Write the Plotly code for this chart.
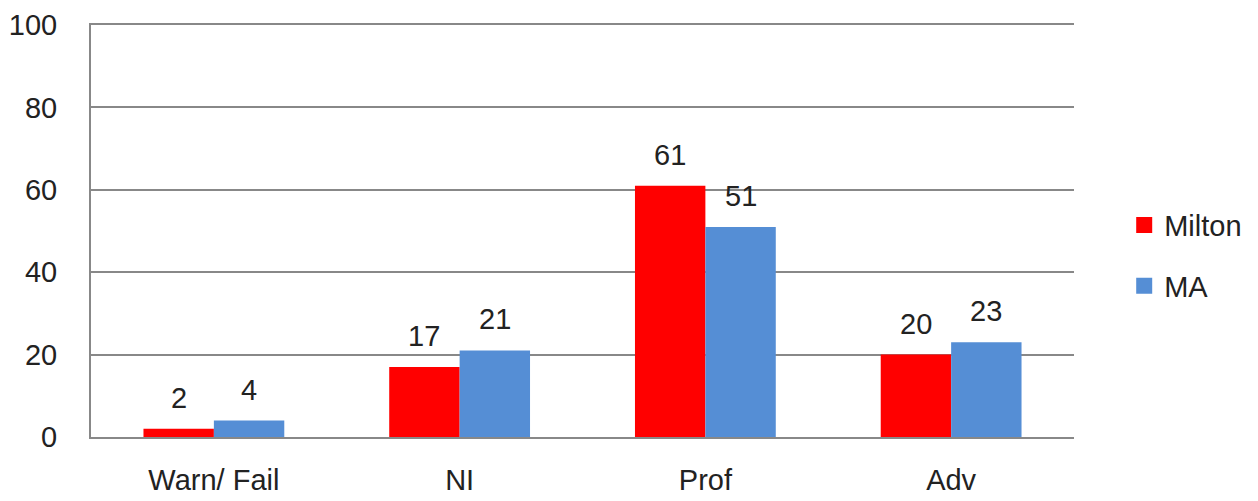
import plotly.graph_objects as go

categories = ["Warn/ Fail", "NI", "Prof", "Adv"]
milton = [2, 17, 61, 20]
ma = [4, 21, 51, 23]
y_ticks = [0, 20, 40, 60, 80, 100]
series = [("Milton", milton, "#FF0000"), ("MA", ma, "#558ED5")]

FONT = "Liberation Sans, Arial, sans-serif"
FS = 29
BARGAP = 0.427
fig = go.Figure()
for name, vals, col in series:
    fig.add_trace(go.Bar(name=name, x=categories, y=vals, marker_color=col,
                         marker_line_width=0, showlegend=False))
for name, vals, col in series:
    fig.add_trace(go.Scatter(name=name, x=[None], y=[None], mode="markers",
                             marker=dict(symbol="square", size=19, color=col),
                             legendgroup=name, showlegend=True))

off_w = (1 - BARGAP) / 4
annotations = []
for i, c in enumerate(categories):
    for v, off in ((milton[i], -off_w), (ma[i], off_w)):
        annotations.append(dict(x=i + off, y=v, xref="x", yref="y", text=str(v),
                                showarrow=False, yanchor="bottom", yshift=13,
                                font=dict(family=FONT, size=FS, color="#222")))

fig.update_layout(
    width=1250, height=493,
    margin=dict(l=83, r=183, t=17, b=64),
    paper_bgcolor="white", plot_bgcolor="white",
    barmode="group", bargap=BARGAP, bargroupgap=0,
    font=dict(family=FONT, size=FS, color="#222"),
    showlegend=True,
    legend=dict(x=1.05, y=0.44, xanchor="left", yanchor="middle",
                tracegroupgap=20, font=dict(size=FS), itemwidth=30,
                itemsizing="trace"),
    annotations=annotations,
    xaxis=dict(showline=True, linecolor="#888", linewidth=2, ticks="", mirror=True,
               ticklabelstandoff=16, tickfont=dict(size=FS), automargin=False),
    yaxis=dict(range=[0, 100], tickvals=y_ticks, showgrid=True, gridcolor="#888",
               gridwidth=2, showline=True, linecolor="#888", linewidth=2,
               ticks="", ticklabelstandoff=26, zeroline=False, tickfont=dict(size=FS),
               automargin=False),
)
fig.write_html("out.html")
